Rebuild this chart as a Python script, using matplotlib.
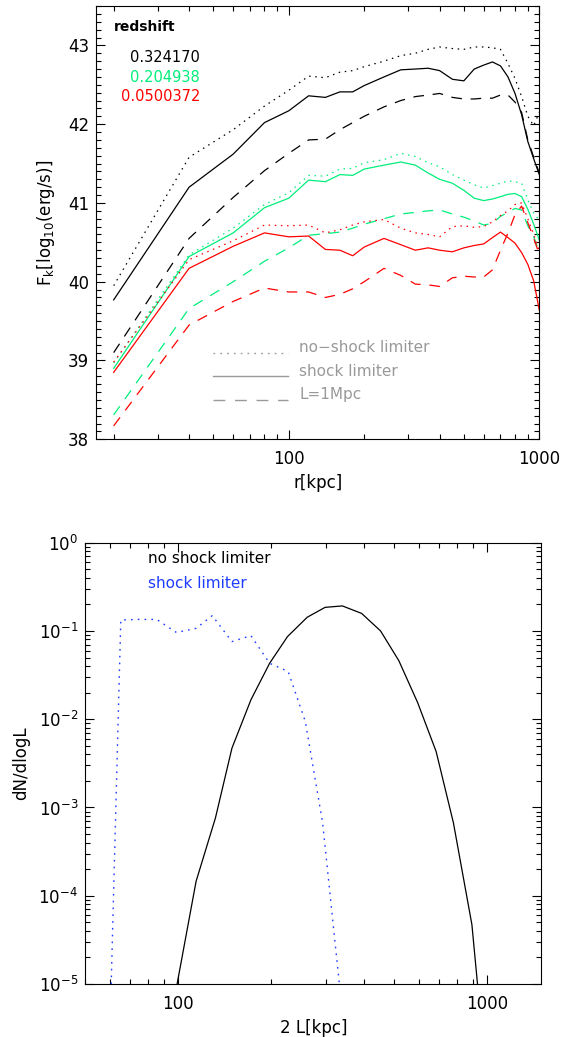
import matplotlib
matplotlib.use("Agg")
import matplotlib.pyplot as plt
from matplotlib.ticker import MultipleLocator, LogLocator, FuncFormatter, NullFormatter

# ---------------- data: top panel ----------------
r_kpc = [20, 40, 60, 80, 100, 120, 140, 160, 180, 200, 240, 280, 320, 360, 400,
         450, 500, 550, 600, 650, 700, 750, 800, 850, 900, 950, 1000]

black_noshock = [39.95, 41.58, 41.93, 42.23, 42.43, 42.61, 42.59, 42.66, 42.68, 42.73, 42.80,
                 42.87, 42.90, 42.95, 42.98, 42.96, 42.95, 42.98, 42.98, 42.97, 42.95, 42.77,
                 42.58, 42.35, 42.10, 41.98, 42.15]
black_shock = [39.77, 41.20, 41.62, 42.02, 42.17, 42.36, 42.34, 42.41, 42.41, 42.49, 42.60,
               42.69, 42.70, 42.71, 42.68, 42.57, 42.55, 42.70, 42.75, 42.79, 42.74, 42.60,
               42.39, 42.12, 41.78, 41.56, 41.36]
black_1mpc = [39.10, 40.55, 41.07, 41.41, 41.63, 41.80, 41.81, 41.93, 42.02, 42.10, 42.22,
              42.30, 42.35, 42.37, 42.39, 42.34, 42.32, 42.32, 42.33, 42.33, 42.37, 42.37,
              42.28, 42.15, 41.80, 41.58, 41.38]

green_noshock = [38.97, 40.34, 40.68, 40.98, 41.13, 41.35, 41.34, 41.43, 41.44, 41.51, 41.55,
                 41.63, 41.59, 41.51, 41.46, 41.36, 41.29, 41.23, 41.19, 41.22, 41.25, 41.28,
                 41.27, 41.25, 41.04, 40.87, 40.78]
green_shock = [38.90, 40.32, 40.62, 40.94, 41.06, 41.29, 41.27, 41.36, 41.35, 41.43, 41.48,
               41.52, 41.48, 41.38, 41.30, 41.25, 41.16, 41.06, 41.03, 41.05, 41.08, 41.11,
               41.12, 41.08, 40.92, 40.73, 40.53]
green_1mpc = [38.31, 39.66, 40.00, 40.26, 40.43, 40.59, 40.61, 40.63, 40.68, 40.73, 40.80,
              40.86, 40.88, 40.90, 40.91, 40.86, 40.82, 40.77, 40.72, 40.74, 40.83, 40.88,
              40.93, 40.91, 40.71, 40.57, 40.38]

red_noshock = [38.98, 40.28, 40.52, 40.72, 40.71, 40.72, 40.62, 40.66, 40.72, 40.76, 40.79,
               40.68, 40.62, 40.60, 40.57, 40.70, 40.71, 40.69, 40.70, 40.76, 40.84, 40.90,
               40.98, 41.00, 40.80, 40.60, 40.40]
red_shock = [38.85, 40.17, 40.45, 40.62, 40.57, 40.58, 40.41, 40.40, 40.33, 40.44, 40.55,
             40.47, 40.40, 40.43, 40.40, 40.38, 40.43, 40.46, 40.48, 40.56, 40.63, 40.56,
             40.49, 40.37, 40.22, 40.01, 39.64]
red_1mpc = [38.17, 39.45, 39.75, 39.92, 39.87, 39.87, 39.80, 39.84, 39.91, 40.00, 40.17,
            40.08, 39.97, 39.96, 39.94, 40.05, 40.07, 40.06, 40.06, 40.15, 40.40, 40.62,
            40.85, 40.96, 40.75, 40.55, 40.35]

redshifts = ["0.324170", "0.204938", "0.0500372"]
legend_labels = ["no\u2212shock limiter", "shock limiter", "L=1Mpc"]

# ---------------- data: bottom panel ----------------
L_noshock = [99.2, 114.3, 132, 149.3, 172, 197.7, 225.9, 261.7, 299, 340, 392.5, 452,
             518, 596, 684, 778, 893, 931]
N_noshock = [1e-5, 1.46e-4, 7.6e-4, 4.7e-3, 0.0166, 0.043, 0.0863, 0.143, 0.185, 0.192,
             0.158, 0.1, 0.046, 0.0154, 4.3e-3, 6.7e-4, 4.7e-5, 1e-5]
L_shock = [60.7, 65.2, 74.5, 85.2, 98.7, 114.3, 128.9, 149.3, 172, 197.7, 227, 258,
           293.5, 332.5]
N_shock = [1e-5, 0.133, 0.135, 0.135, 0.096, 0.107, 0.149, 0.0757, 0.0885, 0.043, 0.0347,
           9.4e-3, 6.7e-4, 1e-5]

# ---------------- style ----------------
GREEN = "#00ee7a"
RED = "#ff0000"
BLUE = "#1e3cff"
GRAY = "#999999"
DOT = (0, (1.2, 3.7))
DASH = (0, (8.5, 7.0))
LW = 0.9

plt.rcParams['font.family'] = ['DejaVu Sans']
plt.rcParams['mathtext.fontset'] = 'dejavusans'

fig = plt.figure(figsize=(5.66, 10.37), dpi=100)

# ---------- top panel ----------
ax1 = fig.add_axes([0.1696, 0.5764, 0.7832, 0.4178])
series = [
    (black_noshock, 'k', DOT), (black_shock, 'k', '-'), (black_1mpc, 'k', DASH),
    (green_noshock, GREEN, DOT), (green_shock, GREEN, '-'), (green_1mpc, GREEN, DASH),
    (red_noshock, RED, DOT), (red_shock, RED, '-'), (red_1mpc, RED, DASH),
]
for vals, c, ls in series:
    ax1.plot(r_kpc, vals, color=c, linestyle=ls, lw=LW)

ax1.set_xscale('log')
ax1.set_xlim(17, 1000)
ax1.set_ylim(38, 43.5)
ax1.yaxis.set_major_locator(MultipleLocator(1))
ax1.yaxis.set_minor_locator(MultipleLocator(0.1))
ax1.xaxis.set_major_locator(LogLocator(base=10, numticks=10))
ax1.xaxis.set_minor_locator(LogLocator(base=10, subs=range(2, 10), numticks=20))
ax1.xaxis.set_major_formatter(FuncFormatter(lambda v, p: f"{v:g}"))
ax1.xaxis.set_minor_formatter(NullFormatter())
ax1.set_xlabel("r[kpc]", fontsize=12, labelpad=4)
ax1.set_ylabel(r"F$_\mathrm{k}$[log$_{10}$(erg/s)]", fontsize=12, labelpad=8)

ax1.text(0.0406, 0.9522, "redshift", transform=ax1.transAxes, fontsize=10,
         fontweight='bold', ha='left', va='center')
for txt, c, yy in zip(redshifts, ['k', GREEN, RED], [0.8823, 0.8361, 0.7907]):
    ax1.text(0.2346, yy, txt, transform=ax1.transAxes, fontsize=10.5, color=c,
             ha='right', va='center')

for lab, ls, yl, yt in zip(legend_labels, [DOT, '-', DASH],
                           [0.1999, 0.1461, 0.0907], [0.2114, 0.156, 0.1022]):
    ax1.plot([0.264, 0.433], [yl, yl], transform=ax1.transAxes, color=GRAY,
             linestyle=ls, lw=1.0)
    ax1.text(0.4586, yt, lab, transform=ax1.transAxes, fontsize=11, color=GRAY,
             ha='left', va='center')

# ---------- bottom panel ----------
ax2 = fig.add_axes([0.1505, 0.0511, 0.8062, 0.4256])
ax2.plot(L_noshock, N_noshock, color='k', lw=LW, linestyle='-')
ax2.plot(L_shock, N_shock, color=BLUE, lw=1.0, linestyle=DOT)
ax2.set_xscale('log')
ax2.set_yscale('log')
ax2.set_xlim(50, 1500)
ax2.set_ylim(1e-5, 1)
ax2.xaxis.set_major_locator(LogLocator(base=10, numticks=10))
ax2.xaxis.set_minor_locator(LogLocator(base=10, subs=range(2, 10), numticks=20))
ax2.xaxis.set_major_formatter(FuncFormatter(lambda v, p: f"{v:g}"))
ax2.xaxis.set_minor_formatter(NullFormatter())
ax2.yaxis.set_major_locator(LogLocator(base=10, numticks=10))
ax2.yaxis.set_minor_locator(LogLocator(base=10, subs=range(2, 10), numticks=20))
ax2.yaxis.set_minor_formatter(NullFormatter())
ax2.set_xlabel("2 L[kpc]", fontsize=12, labelpad=4)
ax2.set_ylabel("dN/dlogL", fontsize=12, labelpad=6)
ax2.text(0.1376, 0.9647, "no shock limiter", transform=ax2.transAxes, fontsize=11,
         color='k', ha='left', va='center')
ax2.text(0.1376, 0.9064, "shock limiter", transform=ax2.transAxes, fontsize=11,
         color=BLUE, ha='left', va='center')

for ax in (ax1, ax2):
    for s in ax.spines.values():
        s.set_linewidth(0.8)
    ax.tick_params(which='both', direction='in', top=True, right=True, width=0.8)
    ax.tick_params(which='major', length=6.2, labelsize=12)
    ax.tick_params(which='minor', length=3.3)
    ax.tick_params(axis='x', which='major', pad=8)
    ax.tick_params(axis='y', which='major', pad=5)

fig.savefig("out.png", dpi=100)
